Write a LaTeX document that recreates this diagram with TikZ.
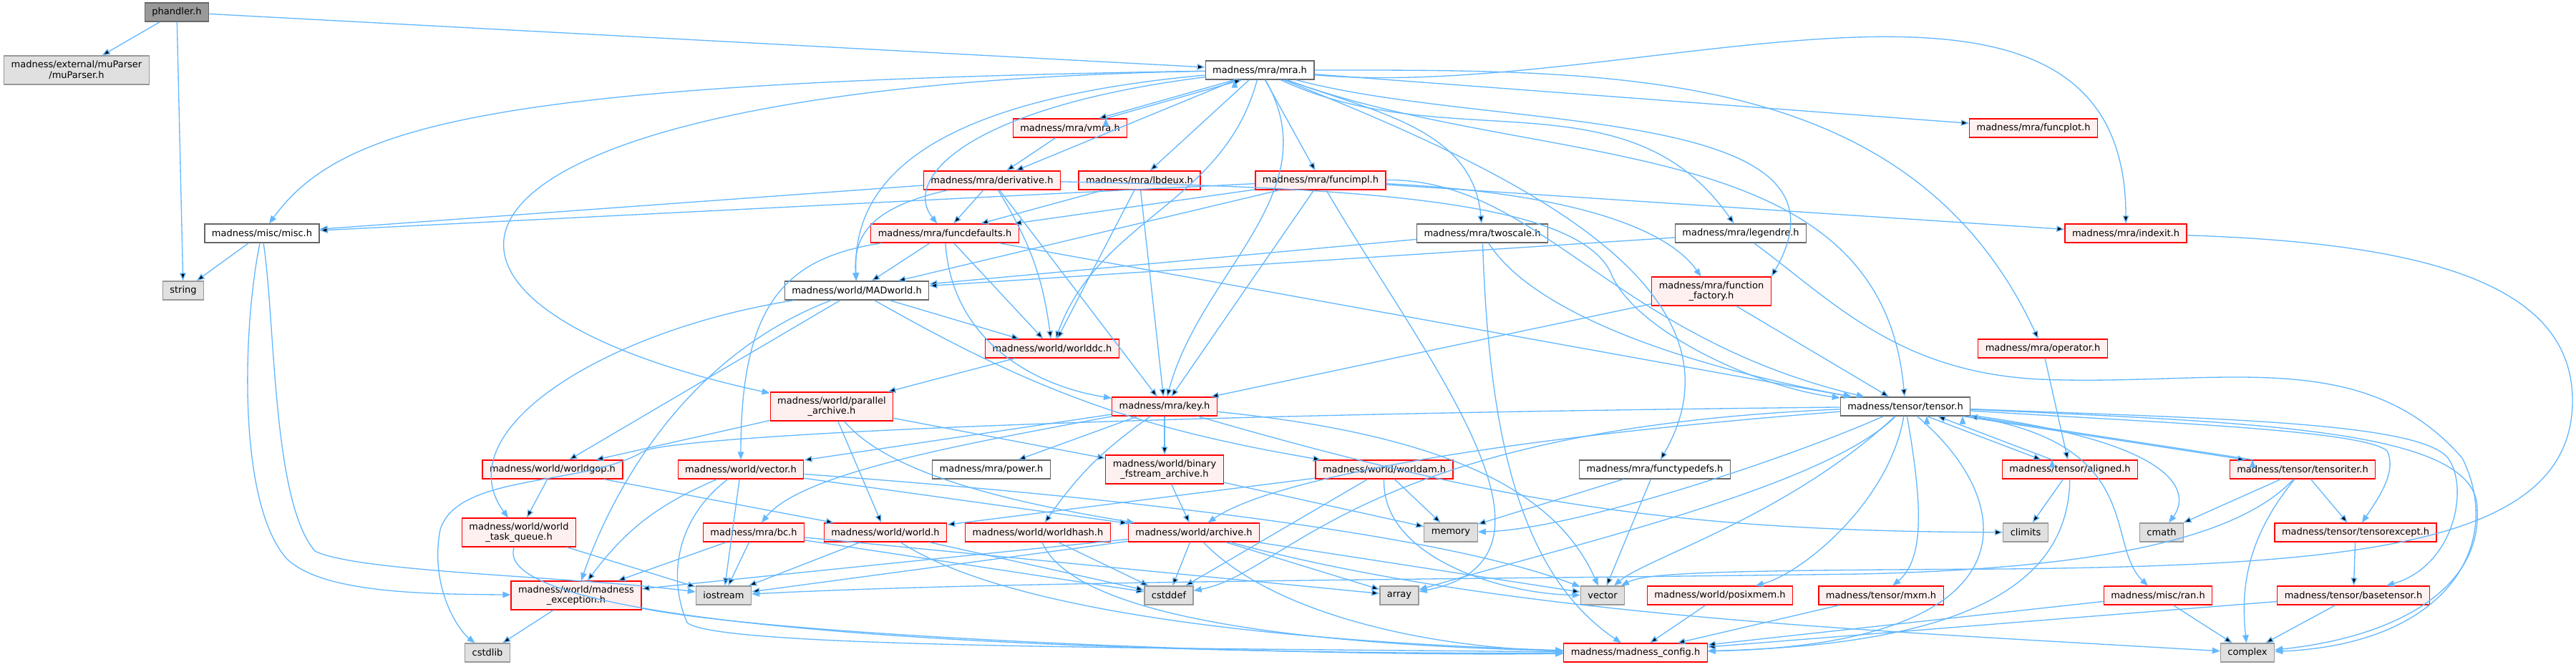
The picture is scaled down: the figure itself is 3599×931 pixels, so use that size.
\documentclass[tikz,border=0pt]{standalone}
\usepackage{fontspec}
\setmainfont{DejaVu Sans}
\usepackage{tikz}
\usetikzlibrary{arrows.meta}
\definecolor{edgeblue}{HTML}{63B8FF}
\definecolor{truncfill}{HTML}{FFF0F0}
\definecolor{sysfill}{HTML}{E0E0E0}
\definecolor{sysline}{HTML}{999999}
\definecolor{plainline}{HTML}{666666}

\begin{document}
\begin{tikzpicture}[x=0.02cm, y=0.02cm,
    hdr/.style = {draw, rectangle, inner xsep=0.2cm, inner ysep=0cm, minimum height=0.52cm, line width=0.7pt, font=\fontsize{7.4}{8.4}\selectfont},
    plain/.style = {hdr, draw=plainline, fill=white},
    trunc/.style = {hdr, draw=red, fill=truncfill},
    sys/.style = {hdr, draw=sysline, fill=sysfill},
    root/.style = {hdr, draw=plainline, fill=sysline},
    twoline/.style = {align=center, minimum height=0.8cm},
    dep/.style = {-{Triangle[length=0.22cm,width=0.17cm]}, draw=edgeblue, line width=0.75pt}]
    \useasboundingbox[fill=white] (0,0) rectangle (3599,-931);

    \node[root] (phandler) at (247,-17) {phandler.h};
    \node[sys, twoline] (muparser) at (107,-98) {madness/external/muParser\\/muParser.h};
    \node[plain] (mra) at (1760,-98) {madness/mra/mra.h};
    \node[trunc] (vmra) at (1495,-179) {madness/mra/vmra.h};
    \node[trunc] (funcplot) at (2841,-179) {madness/mra/funcplot.h};
    \node[trunc] (deriv) at (1386,-252) {madness/mra/derivative.h};
    \node[trunc] (lbdeux) at (1592,-252) {madness/mra/lbdeux.h};
    \node[trunc] (funcimpl) at (1845,-252) {madness/mra/funcimpl.h};
    \node[plain] (misc) at (366,-326) {madness/misc/misc.h};
    \node[trunc] (funcdef) at (1320,-326) {madness/mra/funcdefaults.h};
    \node[plain] (twoscale) at (2071,-326) {madness/mra/twoscale.h};
    \node[plain] (legendre) at (2432,-326) {madness/mra/legendre.h};
    \node[trunc] (indexit) at (2970,-326) {madness/mra/indexit.h};
    \node[sys] (string) at (256,-406) {string};
    \node[plain] (madworld) at (1197,-406) {madness/world/MADworld.h};
    \node[trunc, twoline] (funcfact) at (2391,-407) {madness/mra/function\\\_factory.h};
    \node[trunc] (worlddc) at (1470,-487) {madness/world/worlddc.h};
    \node[trunc] (operator) at (2854,-487) {madness/mra/operator.h};
    \node[trunc, twoline] (parch) at (1162,-568) {madness/world/parallel\\\_archive.h};
    \node[trunc] (key) at (1627,-568) {madness/mra/key.h};
    \node[plain] (tensor) at (2662,-568) {madness/tensor/tensor.h};
    \node[trunc] (worldgop) at (772,-656) {madness/world/worldgop.h};
    \node[trunc] (wvector) at (1035,-656) {madness/world/vector.h};
    \node[plain] (power) at (1385,-656) {madness/mra/power.h};
    \node[trunc, twoline] (binarch) at (1627,-656) {madness/world/binary\\\_fstream\_archive.h};
    \node[trunc] (worldam) at (1934,-656) {madness/world/worldam.h};
    \node[plain] (functypedefs) at (2312,-656) {madness/mra/functypedefs.h};
    \node[trunc] (aligned) at (2892,-656) {madness/tensor/aligned.h};
    \node[trunc] (tensoriter) at (3217,-656) {madness/tensor/tensoriter.h};
    \node[trunc, twoline] (wtq) at (725,-744) {madness/world/world\\\_task\_queue.h};
    \node[trunc] (bc) at (1053,-744) {madness/mra/bc.h};
    \node[trunc] (world) at (1237,-744) {madness/world/world.h};
    \node[trunc] (worldhash) at (1450,-744) {madness/world/worldhash.h};
    \node[trunc] (archive) at (1668,-744) {madness/world/archive.h};
    \node[sys] (memory) at (2027,-744) {memory};
    \node[sys] (climits) at (2830,-744) {climits};
    \node[sys] (cmath) at (3020,-744) {cmath};
    \node[trunc] (tensorexcept) at (3291,-744) {madness/tensor/tensorexcept.h};
    \node[trunc, twoline] (mexc) at (805,-832) {madness/world/madness\\\_exception.h};
    \node[sys] (iostream) at (1011,-832) {iostream};
    \node[sys] (cstddef) at (1633,-832) {cstddef};
    \node[sys] (array) at (1955,-832) {array};
    \node[sys] (vector) at (2239,-832) {vector};
    \node[trunc] (posixmem) at (2403,-832) {madness/world/posixmem.h};
    \node[trunc] (mxm) at (2628,-832) {madness/tensor/mxm.h};
    \node[trunc] (ran) at (3015,-832) {madness/misc/ran.h};
    \node[trunc] (basetensor) at (3288,-832) {madness/tensor/basetensor.h};
    \node[sys] (cstdlib) at (681,-912) {cstdlib};
    \node[trunc] (config) at (2285,-912) {madness/madness\_config.h};
    \node[sys] (complex) at (3140,-912) {complex};

    % phandler.h
    \path[dep] (phandler) edge (muparser) edge (string) edge (mra);

    % mra.h
    \path[dep] (mra) edge (lbdeux) edge (funcimpl) edge (deriv) edge (funcplot)
        edge[out=255,in=70] (worlddc)
        edge[out=300,in=75] (key)
        edge[out=340,in=95] (twoscale)
        edge[out=335,in=125] (legendre)
        edge[out=345,in=60] (funcfact.north east)
        edge[out=340,in=95] (tensor)
        edge[out=338,in=60] (functypedefs)
        edge[out=355,in=90] (indexit)
        edge[out=0,in=115] (operator);
    \path[dep] ([xshift=-0.7cm]mra.south) edge ([xshift=0.8cm]vmra.north);
    \path[dep] ([xshift=1.0cm]vmra.north) edge ([xshift=-0.5cm]mra.south);
    \draw[dep] (mra) .. controls (700,-115) and (480,-170) .. (misc);
    \draw[dep] (mra) .. controls (550,-120) and (480,-420) .. (parch);
    \draw[dep] (mra) .. controls (1300,-140) and (1190,-250) .. (madworld);
    \draw[dep] (mra) .. controls (1350,-150) and (1260,-250) .. (funcdef);

    % vmra.h, derivative.h, lbdeux.h
    \path[dep] (vmra) edge (deriv);
    \path[dep] (deriv) edge (misc) edge (funcdef) edge (key) edge[bend left=12] (worlddc);
    \draw[dep] (deriv) .. controls (1215,-290) and (1192,-330) .. (madworld);
    \draw[dep] (deriv) .. controls (1900,-262) and (2200,-280) .. (2250,-380) .. controls (2280,-460) and (2450,-540) .. (tensor);
    \path[dep] (lbdeux) edge (funcdef) edge (worlddc) edge (key);

    % funcimpl.h
    \path[dep] (funcimpl) edge (misc) edge (funcdef) edge (madworld) edge (key) edge (indexit);
    \draw[dep] (funcimpl) .. controls (2200,-270) and (2330,-320) .. (funcfact);
    \draw[dep] (funcimpl) .. controls (2150,-250) and (2250,-470) .. (tensor);
    \draw[dep] (funcimpl) .. controls (1990,-500) and (2220,-780) .. (array);

    % misc.h
    \path[dep] (misc) edge (string);
    \draw[dep] (misc) .. controls (340,-450) and (330,-700) .. (400,-780) .. controls (450,-830) and (600,-830) .. (mexc);
    \draw[dep] (misc) .. controls (385,-450) and (380,-700) .. (440,-770) .. controls (500,-800) and (800,-805) .. (iostream);

    % funcdefaults.h, MADworld.h
    \path[dep] (funcdef) edge (madworld) edge (worlddc) edge (tensor);
    \draw[dep] (funcdef) .. controls (1330,-480) and (1450,-540) .. (key);
    \draw[dep] (funcdef) .. controls (1100,-360) and (1035,-420) .. (wvector);
    \path[dep] (madworld) edge (worlddc) edge (worldgop) edge[bend right=10] (worldam);
    \draw[dep] (madworld) .. controls (850,-460) and (620,-600) .. (wtq);
    \draw[dep] (madworld) .. controls (950,-500) and (850,-700) .. (mexc);

    % world headers
    \path[dep] (worlddc) edge (parch);
    \path[dep] (parch) edge (worldgop) edge (world) edge (binarch);
    \draw[dep] (parch) .. controls (1240,-660) and (1400,-700) .. (archive);
    \path[dep] (key) edge (power) edge (binarch) edge (wvector) edge[bend right=10] (worldhash) edge[bend right=8] (climits);
    \draw[dep] (key) .. controls (1350,-620) and (1120,-660) .. (bc);
    \draw[dep] (key) .. controls (2050,-610) and (2180,-700) .. (vector);
    \path[dep] (worldgop) edge (wtq) edge (world);
    \path[dep] (wvector) edge (iostream) edge (archive) edge[bend right=15] (mexc);
    \draw[dep] (wvector) .. controls (1500,-690) and (2000,-740) .. (vector);
    \draw[dep] (wvector) .. controls (950,-720) and (930,-800) .. (960,-870) .. controls (1000,-905) and (1600,-905) .. (config);
    \path[dep] (binarch) edge (archive) edge (memory);
    \path[dep] (worldam) edge (world) edge (memory) edge (cstddef);
    \draw[dep] (worldam) .. controls (1930,-780) and (2100,-830) .. (vector);
    \path[dep] (functypedefs) edge (memory) edge (vector);
    \path[dep] (wtq) edge (iostream);
    \draw[dep] (wtq) .. controls (680,-880) and (1500,-915) .. (config);
    \path[dep] (bc) edge (mexc) edge (iostream) edge (cstddef) edge (array);
    \path[dep] (world) edge (iostream) edge (cstddef);
    \draw[dep] (world) .. controls (1400,-850) and (1750,-895) .. (config);
    \path[dep] (worldhash) edge (cstddef);
    \draw[dep] (worldhash) .. controls (1500,-860) and (1800,-900) .. (config);
    \path[dep] (archive) edge (cstddef) edge (iostream) edge (mexc) edge (vector) edge (array);
    \draw[dep] (archive) .. controls (1780,-860) and (2000,-905) .. (config);
    \draw[dep] (archive) .. controls (2100,-860) and (2600,-880) .. (complex);
    \path[dep] (mexc) edge (cstdlib);
    \draw[dep] (mexc) .. controls (1100,-890) and (1800,-918) .. (config);

    % mra leaves
    \path[dep] (twoscale) edge (madworld);
    \draw[dep] (twoscale) .. controls (2150,-450) and (2400,-520) .. (tensor);
    \draw[dep] (twoscale) .. controls (2080,-600) and (2120,-800) .. (config);
    \path[dep] (legendre) edge (madworld);
    \draw[dep] (legendre) .. controls (2560,-420) and (2650,-520) .. (2850,-530) .. controls (3100,-540) and (3300,-480) .. (3440,-640) .. controls (3500,-760) and (3420,-900) .. (complex);
    \path[dep] (funcfact) edge (key) edge (tensor);
    \path[dep] (operator) edge (aligned);
    \draw[dep] (indexit) .. controls (3400,-340) and (3594,-400) .. (3594,-560) .. controls (3594,-760) and (3300,-790) .. (2800,-795) .. controls (2400,-797) and (2300,-800) .. (vector);

    % tensor.h
    \path[dep] ([xshift=0.6cm]tensor.south) edge ([xshift=-0.8cm]aligned.north);
    \path[dep] ([xshift=-0.5cm]aligned.north) edge ([xshift=0.9cm]tensor.south);
    \path[dep] ([xshift=1.6cm]tensor.south) edge ([xshift=-1.6cm]tensoriter.north);
    \path[dep] ([xshift=-1.4cm]tensoriter.north) edge ([xshift=1.8cm]tensor.south);
    \draw[dep] (tensor) .. controls (1500,-580) and (950,-610) .. (900,-630) .. controls (820,-680) and (640,-660) .. (615,-740) .. controls (600,-820) and (640,-880) .. (cstdlib);
    \draw[dep] (tensor) .. controls (1900,-600) and (1800,-800) .. (cstddef);
    \draw[dep] (tensor) .. controls (2000,-620) and (1760,-680) .. (archive);
    \draw[dep] (tensor) .. controls (2500,-640) and (2200,-740) .. (memory);
    \draw[dep] (tensor) .. controls (2550,-680) and (2200,-760) .. (array);
    \draw[dep] (tensor) .. controls (2500,-720) and (2300,-780) .. (vector);
    \draw[dep] (tensor) .. controls (2640,-700) and (2520,-800) .. (posixmem);
    \draw[dep] (tensor) .. controls (2685,-700) and (2690,-780) .. (mxm);
    \draw[dep] (tensor) .. controls (2820,-700) and (2850,-900) .. (config);
    \draw[dep] (tensor) .. controls (3000,-620) and (2940,-760) .. (ran);
    \draw[dep] (tensor) .. controls (3050,-620) and (3060,-690) .. (cmath);
    \draw[dep] (tensor) .. controls (3000,-590) and (3300,-600) .. (3335,-630) .. controls (3350,-660) and (3320,-700) .. (tensorexcept);
    \draw[dep] (tensor) .. controls (3100,-585) and (3380,-590) .. (3420,-640) .. controls (3450,-680) and (3430,-790) .. (basetensor);
    \draw[dep] (tensor) .. controls (3150,-590) and (3440,-600) .. (3460,-700) .. controls (3475,-820) and (3350,-890) .. (complex);

    % tensor helpers
    \path[dep] (aligned) edge (climits);
    \draw[dep] (aligned) .. controls (2890,-800) and (2780,-900) .. (config);
    \path[dep] (tensoriter) edge (cmath) edge (tensorexcept);
    \draw[dep] (tensoriter) .. controls (3140,-750) and (3130,-820) .. (complex);
    \draw[dep] (tensoriter) .. controls (3120,-760) and (2900,-795) .. (2600,-802) .. controls (2000,-810) and (1400,-812) .. (iostream);
    \path[dep] (tensorexcept) edge (basetensor);
    \path[dep] (basetensor) edge (complex) edge (config);
    \path[dep] (ran) edge (complex) edge (config);
    \path[dep] (mxm) edge (config);
    \path[dep] (posixmem) edge (config);
\end{tikzpicture}
\end{document}
